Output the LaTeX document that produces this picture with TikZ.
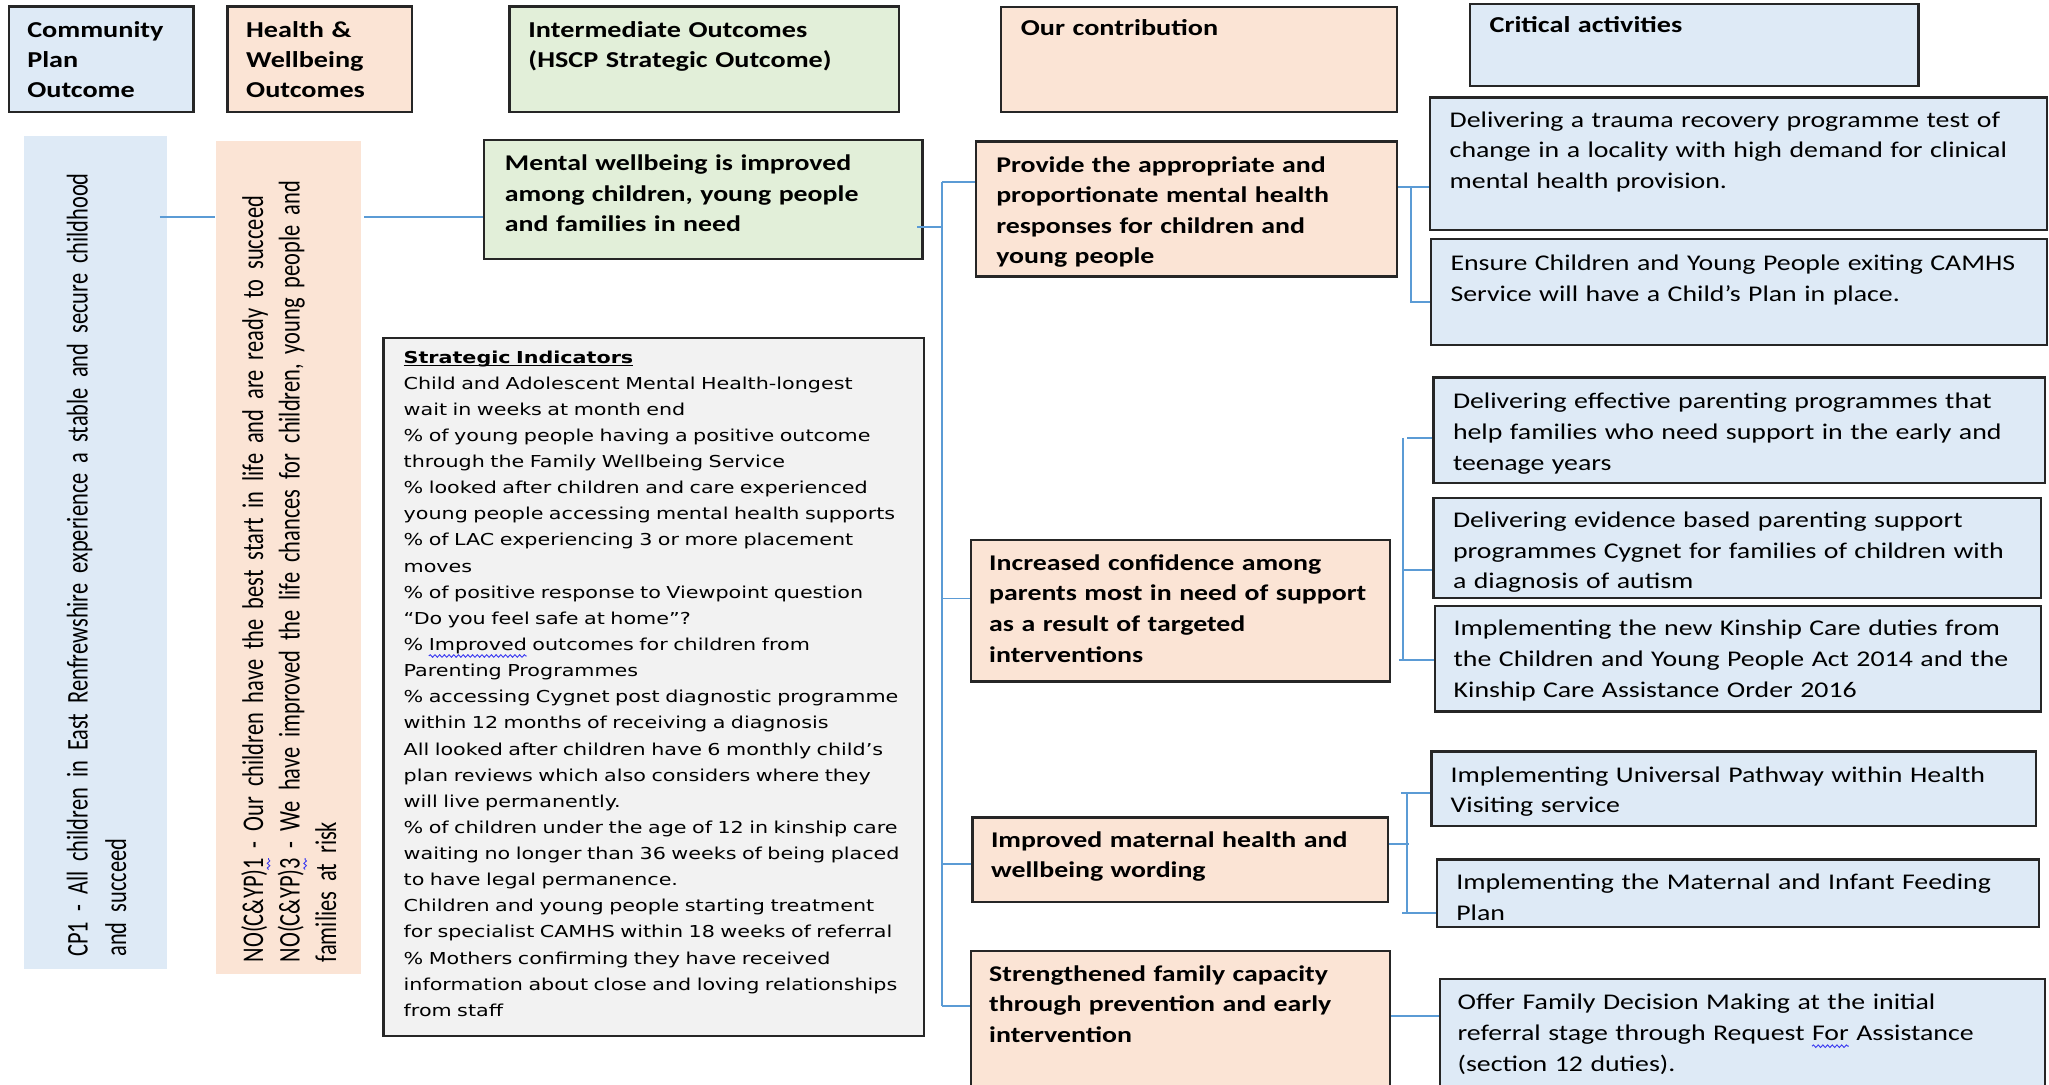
\documentclass[tikz,border=0pt]{standalone}
\usepackage{fontspec}
\usetikzlibrary{fit,decorations.pathmorphing}
\setmainfont[FakeStretch=1.24]{Carlito}
\newfontfamily\vertfont[FakeStretch=0.746]{Carlito}
\newfontfamily\sifont[FakeStretch=1.258]{DejaVu Sans}
\definecolor{cblue}{HTML}{DEEAF6}
\definecolor{cpeach}{HTML}{FBE4D5}
\definecolor{cgreen}{HTML}{E2EFD9}
\definecolor{cgray}{HTML}{F2F2F2}
\definecolor{connc}{HTML}{5B9BD5}
\definecolor{bordc}{HTML}{262626}
\definecolor{sqblue}{HTML}{3B3BF0}
\newsavebox\sqbox
\newlength\sqlen
\newcommand\squig[1]{\sbox\sqbox{#1}\setlength\sqlen{\wd\sqbox}\rlap{\usebox\sqbox}\tikz[baseline=0pt,x=1cm,y=1cm]{\useasboundingbox (0,0) rectangle (\sqlen,0pt); \draw[sqblue, line width=0.35pt, decorate, decoration={snake, amplitude=0.5pt, segment length=1.8pt}] (0,-2.1pt) -- (\sqlen,-2.1pt);}}
\newcommand\ulword[1]{\sbox\sqbox{#1}\rlap{\usebox\sqbox}\rule[-1.3pt]{\wd\sqbox}{0.55pt}}
\tikzset{
  framed/.style={draw=bordc, line width=0.9pt, inner sep=0pt},
  unframed/.style={draw=none, inner sep=0pt},
  conn/.style={draw=connc, line width=0.75pt},
  htxt/.style={anchor=base west, inner sep=0pt, text width=260pt, align=left,
    font=\bfseries\fontsize{8.7}{11.6}\selectfont},
  btxt/.style={anchor=base west, inner sep=0pt, text width=260pt, align=left,
    font=\bfseries\fontsize{8.59}{11.7}\selectfont},
  rtxt/.style={anchor=base west, inner sep=0pt, text width=300pt, align=left,
    font=\fontsize{8.59}{11.8}\selectfont},
  stxt/.style={anchor=base west, inner sep=0pt, text width=260pt, align=left,
    font=\sifont\fontsize{6.29}{10}\selectfont},
  vtxt/.style={anchor=base west, rotate=90, inner sep=0pt, text width=340pt, align=left}
}
\begin{document}
\begin{tikzpicture}[x=0.5pt,y=-0.5pt]
\useasboundingbox (0,0) rectangle (1568,830);
\clip (0,0) rectangle (1568,830);
\fill[white] (0,0) rectangle (1568,830);

% header boxes
\node[framed, fill=cblue,  fit={(6.8,5.1)(148,85.5)}] (cph) {};
\node[framed, fill=cpeach, fit={(174,5.1)(315.2,85.5)}] (hwh) {};
\node[framed, fill=cgreen, fit={(390,5.1)(688,85.5)}] (ioh) {};
\node[framed, fill=cpeach, fit={(766,5.6)(1069,85.5)}] (och) {};
\node[framed, fill=cblue,  fit={(1125,3)(1468,65.8)}] (cah) {};

\node[htxt] (cph-t) at (20.5,28.5) {Community\\Plan\\Outcome};
\node[htxt] (hwh-t) at (188,28.5) {Health \&\\Wellbeing\\Outcomes};
\node[htxt] (ioh-t) at (404,28.5) {Intermediate Outcomes\\(HSCP Strategic Outcome)};
\node[htxt] (och-t) at (780.8,27.2) {Our contribution};
\node[htxt] (cah-t) at (1139.5,24.5) {Critical activities};

% long vertical boxes
\node[unframed, fill=cblue,  fit={(18,104)(128,741.7)}] (cp) {};
\node[unframed, fill=cpeach, fit={(165.2,108)(276,745.5)}] (hw) {};
\node[vtxt, font=\vertfont\fontsize{11.5}{14.8}\selectfont] (cp-t) at (67,732.5)
  {CP1 - All children in East Renfrewshire experience a stable and secure childhood\\and succeed};
\node[vtxt, font=\vertfont\fontsize{11.5}{14}\selectfont] (hw-t) at (201.3,736.7)
  {NO(C\&YP)\squig{1} - Our children have the best start in life and are ready to succeed\\NO(C\&YP)\squig{3} - We have improved the life chances for children, young people and\\families at risk};

% intermediate outcome + indicators
\node[framed, fill=cgreen, fit={(370.4,107.1)(706,198.4)}] (mw) {};
\node[btxt] (mw-t) at (386,130.5) {Mental wellbeing is improved\\among children, young people\\and families in need};
\node[framed, fill=cgray, fit={(293.5,258.6)(707,793)}] (si) {};
\node[stxt] (si-t) at (308.5,277.8) {\textbf{\ulword{Strategic Indicators}}\\
Child and Adolescent Mental Health-longest\\
wait in weeks at month end\\
\% of young people having a positive outcome\\
through the Family Wellbeing Service\\
\% looked after children and care experienced\\
young people accessing mental health supports\\
\% of LAC experiencing 3 or more placement\\
moves\\
\% of positive response to Viewpoint question\\
“Do you feel safe at home”?\\
\% \squig{Improved} outcomes for children from\\
Parenting Programmes\\
\% accessing Cygnet post diagnostic programme\\
within 12 months of receiving a diagnosis\\
All looked after children have 6 monthly child’s\\
plan reviews which also considers where they\\
will live permanently.\\
\% of children under the age of 12 in kinship care\\
waiting no longer than 36 weeks of being placed\\
to have legal permanence.\\
Children and young people starting treatment\\
for specialist CAMHS within 18 weeks of referral\\
\% Mothers confirming they have received\\
information about close and loving relationships\\
from staff};

% contribution boxes
\node[framed, fill=cpeach, fit={(747,108.4)(1069,211.7)}] (pr) {};
\node[btxt] (pr-t) at (762,131.8) {Provide the appropriate and\\proportionate mental health\\responses for children and\\young people};
\node[framed, fill=cpeach, fit={(743,413.2)(1063.7,521.6)}] (inc) {};
\node[btxt] (inc-t) at (756.6,436.5) {Increased confidence among\\parents most in need of support\\as a result of targeted\\interventions};
\node[framed, fill=cpeach, fit={(744.2,625.5)(1062,690)}] (imp) {};
\node[btxt] (imp-t) at (758,648.3) {Improved maternal health and\\wellbeing wording};
\node[framed, fill=cpeach, fit={(743,727.5)(1063.7,860)}] (str) {};
\node[btxt] (str-t) at (756.6,750.8) {Strengthened family capacity\\through prevention and early\\intervention};

% critical activity boxes
\node[framed, fill=cblue, fit={(1094.5,74.5)(1566.5,176)}] (tr) {};
\node[rtxt] (tr-t) at (1109,97.3) {Delivering a trauma recovery programme test of\\change in a locality with high demand for clinical\\mental health provision.};
\node[framed, fill=cblue, fit={(1095,183)(1566.5,264)}] (en) {};
\node[rtxt] (en-t) at (1109.6,207) {Ensure Children and Young People exiting CAMHS\\Service will have a Child’s Plan in place.};
\node[framed, fill=cblue, fit={(1097,289)(1565,369.4)}] (eff) {};
\node[rtxt] (eff-t) at (1111.5,312.8) {Delivering effective parenting programmes that\\help families who need support in the early and\\teenage years};
\node[framed, fill=cblue, fit={(1097,381.3)(1562,457.4)}] (evi) {};
\node[rtxt] (evi-t) at (1111.5,403.5) {Delivering evidence based parenting support\\programmes Cygnet for families of children with\\a diagnosis of autism};
\node[framed, fill=cblue, fit={(1098,463.5)(1562,544.6)}] (kin) {};
\node[rtxt] (kin-t) at (1112,486.3) {Implementing the new Kinship Care duties from\\the Children and Young People Act 2014 and the\\Kinship Care Assistance Order 2016};
\node[framed, fill=cblue, fit={(1095.4,575.2)(1557.8,632)}] (uni) {};
\node[rtxt] (uni-t) at (1109.7,598.5) {Implementing Universal Pathway within Health\\Visiting service};
\node[framed, fill=cblue, fit={(1099.7,657.6)(1560.5,709.6)}] (mat) {};
\node[rtxt] (mat-t) at (1114,681) {Implementing the Maternal and Infant Feeding\\Plan};
\node[framed, fill=cblue, fit={(1101.8,749.4)(1565,860)}] (off) {};
\node[rtxt] (off-t) at (1115,772.8) {Offer Family Decision Making at the initial\\referral stage through Request \squig{For} Assistance\\(section 12 duties).};

% connectors
\coordinate (lv-a) at (0,166.3);
\draw[conn] (cp.east |- lv-a) ++(-6,0) -- (hw.west |- lv-a);
\draw[conn] (hw.east |- lv-a) ++(2.5,0) -- (mw.west |- lv-a);

\coordinate (sp-top) at (721,139.5);
\coordinate (sp-bot) at (721,770);
\coordinate (lv-mw) at (0,173.5);
\coordinate (lv-inc) at (0,458);
\coordinate (lv-imp) at (0,661);
\draw[conn] (sp-top) -- (sp-bot);
\draw[conn] (mw.east |- lv-mw) ++(-5,0) -- (sp-top |- lv-mw);
\draw[conn] (sp-top) -- (pr.west |- sp-top);
\draw[conn] (sp-top |- lv-inc) -- (inc.west |- lv-inc);
\draw[conn] (sp-top |- lv-imp) -- (imp.west |- lv-imp);
\draw[conn] (sp-bot) -- (str.west |- sp-bot);

% provide bracket
\coordinate (bp-top) at (1079.5,143);
\coordinate (bp-bot) at (1079.5,231);
\draw[conn] (pr.east |- bp-top) -- (tr.west |- bp-top);
\draw[conn] (bp-top) -- (bp-bot) -- (en.west |- bp-bot);

% increased bracket
\coordinate (bi-top) at (1073.5,335);
\coordinate (bi-mid) at (1073.5,436.5);
\coordinate (bi-bot) at (1073.5,505);
\draw[conn] (eff.west |- bi-top) -- ([xshift=1.5pt]bi-top);
\draw[conn] (bi-top) -- (bi-bot);
\draw[conn] (bi-mid) -- (evi.west |- bi-mid);
\draw[conn] (bi-bot) ++(-3,0) -- (kin.west |- bi-bot);

% improved bracket
\coordinate (bm-top) at (1076.5,607);
\coordinate (bm-mid) at (1076.5,645.5);
\coordinate (bm-bot) at (1076.5,698.3);
\draw[conn] (bm-top) -- (bm-bot);
\draw[conn] (bm-top) ++(-4.5,0) -- (uni.west |- bm-top);
\draw[conn] (bm-bot) ++(-3.5,0) -- (mat.west |- bm-bot);
\draw[conn] (imp.east |- bm-mid) -- ([xshift=1pt]bm-mid);

% strengthened to offer
\coordinate (lv-off) at (0,777.5);
\draw[conn] (str.east |- lv-off) -- (off.west |- lv-off);
\end{tikzpicture}
\end{document}
